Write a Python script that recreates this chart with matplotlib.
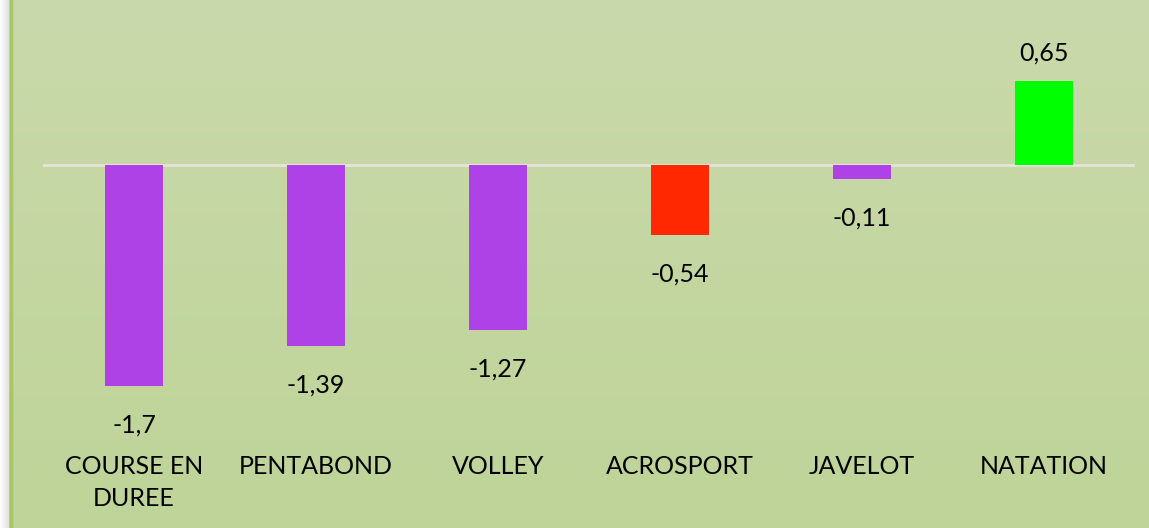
import matplotlib
matplotlib.use("Agg")
import matplotlib.pyplot as plt
import numpy as np

categories = ["COURSE EN\nDUREE", "PENTABOND", "VOLLEY", "ACROSPORT", "JAVELOT", "NATATION"]
values = [-1.7, -1.39, -1.27, -0.54, -0.11, 0.65]
labels = ["-1,7", "-1,39", "-1,27", "-0,54", "-0,11", "0,65"]
colors = ["#AE42E6", "#AE42E6", "#AE42E6", "#FF2800", "#AE42E6", "#00FF00"]

W, H = 1149, 528
fig = plt.figure(figsize=(W / 100, H / 100), dpi=100)
fig.patch.set_facecolor("white")

# background gradient
bg = fig.add_axes([9 / W, 0, 1 - 9 / W, 1])
grad = np.linspace(0, 1, 256).reshape(-1, 1)
top = np.array([0xCA, 0xD9, 0xAB]) / 255
bot = np.array([0xBE, 0xD4, 0x98]) / 255
img = top[None, None, :] * (1 - grad[:, :, None]) + bot[None, None, :] * grad[:, :, None]
bg.imshow(img, aspect="auto", extent=[0, 1, 0, 1], origin="upper")
bg.axvline(0.0015, color="#A6C862", lw=2.5)
bg.set_axis_off()

# shadow at left edge
sh = fig.add_axes([0, 0, 9 / W, 1])
sgrad = np.linspace(0, 1, 64).reshape(1, -1)
sh.imshow(np.dstack([1 - 0.12 * sgrad] * 3), aspect="auto", extent=[0, 1, 0, 1])
sh.set_axis_off()

# plot axes: zero at y=165 px, scale 130 px/unit
left, right = 43, 1135
ytop, ybot = 20, 440
scale = 130.0
ymax = (165 - ytop) / scale
ymin = -(ybot - 165) / scale
ax = fig.add_axes([left / W, (H - ybot) / H, (right - left) / W, (ybot - ytop) / H])
ax.set_facecolor("none")
x = np.arange(len(categories))
ax.bar(x, values, width=0.32, color=colors, zorder=2)
ax.axhline(0, color="#E4E4DE", lw=2, zorder=1)
ax.set_xlim(-0.5, len(categories) - 0.5)
ax.set_ylim(ymin, ymax)
for s in ax.spines.values():
    s.set_visible(False)
ax.set_yticks([])
ax.set_xticks([])

font = "Lato"
fs = 18
for xi, v, lab in zip(x, values, labels):
    if v >= 0:
        ax.annotate(lab, (xi, v), xytext=(0, 20), textcoords="offset points",
                    ha="center", va="center", fontsize=fs, family=font, color="black")
    else:
        ax.annotate(lab, (xi, v), xytext=(0, -28), textcoords="offset points",
                    ha="center", va="center", fontsize=fs, family=font, color="black")

for xi, cat in zip(x, categories):
    xf = (left + (xi + 0.5) * (right - left) / len(categories)) / W
    fig.text(xf, 1 - 455 / H, cat, ha="center", va="top", fontsize=fs, family=font,
             color="black", linespacing=1.45)

fig.savefig("out.png", dpi=100)
